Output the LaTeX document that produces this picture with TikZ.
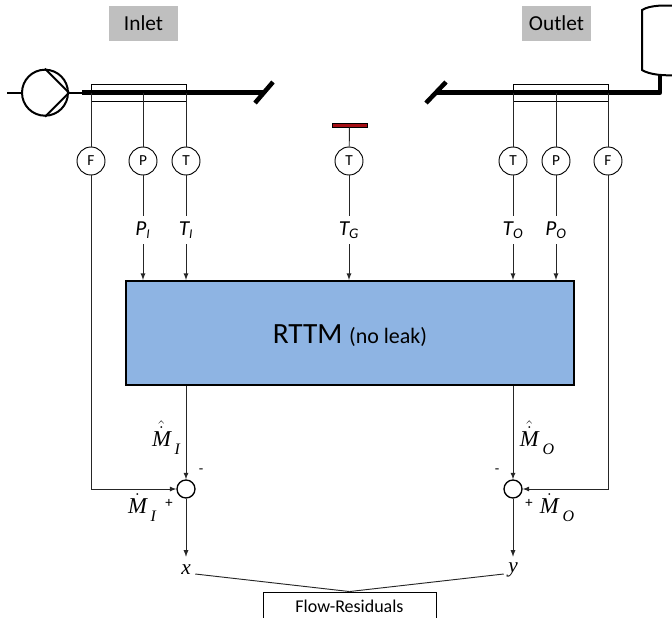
\documentclass[tikz,border=0pt]{standalone}
\usepackage{fix-cm}
\usepackage{amsmath,amssymb}
\usepackage{fontspec}
\setmainfont{Carlito}
\newfontfamily\symfont{Liberation Serif}

\definecolor{rttmblue}{HTML}{8EB4E3}
\definecolor{capgray}{HTML}{BFBFBF}
\definecolor{barred}{HTML}{A50F15}

\newcommand{\symit}[1]{\text{\symfont\itshape #1}}
\newcommand{\subit}[1]{\raisebox{-6pt}{\fontsize{12}{12}\selectfont\symfont\itshape #1}}

\begin{document}
\begin{tikzpicture}[x=0.75pt, y=-0.75pt,
	thinline/.style={line width=0.7pt, draw=black!85},
	pipeline/.style={line width=3.4pt, line cap=butt},
	sensor/.style={circle, draw, line width=0.7pt, fill=white, minimum size=21pt, inner sep=0pt, font=\fontsize{11.5}{13}\selectfont},
	caption/.style={fill=capgray, minimum width=51.75pt, minimum height=26.25pt, inner sep=0pt, font=\fontsize{16}{18}\selectfont},
	tap/.style={draw, line width=0.7pt, minimum width=71.25pt, minimum height=12.75pt, inner sep=0pt},
	siglabel/.style={inner sep=0pt, minimum height=21pt, font=\fontsize{16}{18}\selectfont\itshape},
	mathlabel/.style={inner sep=0pt, font=\fontsize{17}{19}\selectfont},
	sumnode/.style={circle, draw, line width=1pt, fill=white, minimum size=13.5pt, inner sep=0pt},
	outlabel/.style={inner sep=0pt, minimum width=13.5pt, minimum height=19.5pt, font=\fontsize{16}{18}\selectfont\symfont\itshape},
	signlabel/.style={inner sep=0pt, font=\fontsize{11}{13}\selectfont}
	]
\useasboundingbox (0,0) rectangle (672,618);
\clip (0,0) rectangle (672,618);

\node[caption] (inlet) at (143.5,23.5) {Inlet};
\node[caption] (outlet) at (556.5,23.5) {Outlet};

% pump and inlet pipe
\node[circle, draw, line width=1.5pt, minimum size=34.5pt, inner sep=0pt] (pump) at (45,92.7) {};
\coordinate (pumpin) at (7,92.7);
\coordinate (inpipe) at (82,92.7);
\coordinate (inpipeend) at (263,92.7);
\draw[line width=1.2pt] (pumpin) -- (pump.west);
\draw[line width=1.2pt] (pump.east) -- (inpipe);
\draw[line width=1.5pt] (pump.north) -- (pump.east) -- (pump.south);
\draw[pipeline] (inpipe) -- (inpipeend);
\coordinate (invalvea) at (255,103);
\coordinate (invalveb) at (273,82);
\draw[pipeline] (invalvea) -- (invalveb);

% outlet pipe and tank
\coordinate (outpipe) at (437,92.7);
\coordinate (outpipeend) at (660,92.7);
\coordinate (tankfoot) at (660,75);
\coordinate (outvalvea) at (426,103);
\coordinate (outvalveb) at (446,82);
\draw[pipeline] (outvalvea) -- (outvalveb);
\draw[pipeline, line join=round] (outpipe) -- (outpipeend) -- (tankfoot);
\draw[line width=1.5pt, fill=white] (680,6) .. controls (665,5) and (650,5) .. (642,10) -- (642,70) .. controls (650,75) and (665,76) .. (680,75);

\node[tap] (inbox) at (138.5,92.5) {};
\node[tap] (outbox) at (560.5,92.5) {};

% sensors
\node[sensor] (FI) at (91,161) {F};
\node[sensor] (PI) at (143,161) {P};
\node[sensor] (TI) at (186,161) {T};
\node[sensor] (TG) at (349,161) {T};
\node[sensor] (TO) at (513,161) {T};
\node[sensor] (PO) at (556,161) {P};
\node[sensor] (FO) at (608,161) {F};

\draw[thinline] (inbox.center -| FI) -- (FI);
\draw[thinline] (inbox.center -| PI) -- (PI);
\draw[thinline] (inbox.center -| TI) -- (TI);
\draw[thinline] (outbox.center -| TO) -- (TO);
\draw[thinline] (outbox.center -| PO) -- (PO);
\draw[thinline] (outbox.center -| FO) -- (FO);

\node[draw=black, line width=0.3pt, fill=barred, minimum width=26pt, minimum height=3pt, inner sep=0pt] (ground) at (349.5,125.5) {};
\draw[thinline] (ground) -- (TG);

% model block
\node[draw, line width=1.6pt, fill=rttmblue, minimum width=336pt, minimum height=78pt, inner sep=0pt, font=\fontsize{22}{24}\selectfont] (rttm) at (350,333) {\raisebox{-8pt}[0pt][0pt]{RTTM {\fontsize{16.5}{18}\selectfont (no leak)}}};

\node[siglabel] (lPI) at (143,230) {P\textsubscript{\fontsize{10}{10}\selectfont I}};
\node[siglabel] (lTI) at (186,230) {T\textsubscript{\fontsize{10}{10}\selectfont I}};
\node[siglabel] (lTG) at (349,230) {T\textsubscript{\fontsize{11}{11}\selectfont G}};
\node[siglabel] (lTO) at (513,230) {T\textsubscript{\fontsize{11}{11}\selectfont O}};
\node[siglabel] (lPO) at (556,230) {P\textsubscript{\fontsize{11}{11}\selectfont O}};

\draw[thinline] (PI) -- (lPI);
\draw[thinline] (TI) -- (lTI);
\draw[thinline] (TG) -- (lTG);
\draw[thinline] (TO) -- (lTO);
\draw[thinline] (PO) -- (lPO);

\draw[thinline, ->,>=latex] (lPI) -- (lPI |- rttm.north);
\draw[thinline, ->,>=latex] (lTI) -- (lTI |- rttm.north);
\draw[thinline, ->,>=latex] (lTG) -- (lTG |- rttm.north);
\draw[thinline, ->,>=latex] (lTO) -- (lTO |- rttm.north);
\draw[thinline, ->,>=latex] (lPO) -- (lPO |- rttm.north);

% residual part
\node[sumnode] (sumI) at (186,489) {};
\node[sumnode] (sumO) at (513,489) {};

\draw[thinline, ->,>=latex] (rttm.south -| sumI) -- (sumI);
\draw[thinline, ->,>=latex] (rttm.south -| sumO) -- (sumO);
\draw[thinline, ->,>=latex] (FI) |- (sumI);
\draw[thinline, ->,>=latex] (FO) |- (sumO);

\node[mathlabel] (hatMI) at (166,438) {$\hat{\dot{\symit{M}}}$\,\subit{I}};
\node[mathlabel] (hatMO) at (537,438) {$\hat{\dot{\symit{M}}}$\,\subit{O}};
\node[mathlabel] (MI) at (142,508) {$\dot{\symit{M}}$\,\subit{I}};
\node[mathlabel] (MO) at (557,508) {$\dot{\symit{M}}$\,\subit{O}};

\node[signlabel] (minusI) at (201,471) {-};
\node[signlabel] (plusI) at (169,503) {+};
\node[signlabel] (minusO) at (497,471) {-};
\node[signlabel] (plusO) at (529,503) {+};

\node[outlabel] (outx) at (186,570) {x};
\node[outlabel] (outy) at (513,570) {y};
\draw[thinline, ->,>=latex] (sumI) -- (outx);
\draw[thinline, ->,>=latex] (sumO) -- (outy);

\node[draw, line width=0.7pt, minimum width=129.75pt, minimum height=21pt, inner sep=0pt, font=\fontsize{13.5}{15}\selectfont] (flow) at (349.5,606) {Flow-Residuals};
\draw[thinline] ([yshift=-3pt]outx.east) -- (flow.north);
\draw[thinline] ([yshift=-3pt]outy.west) -- (flow.north);

\end{tikzpicture}
\end{document}
